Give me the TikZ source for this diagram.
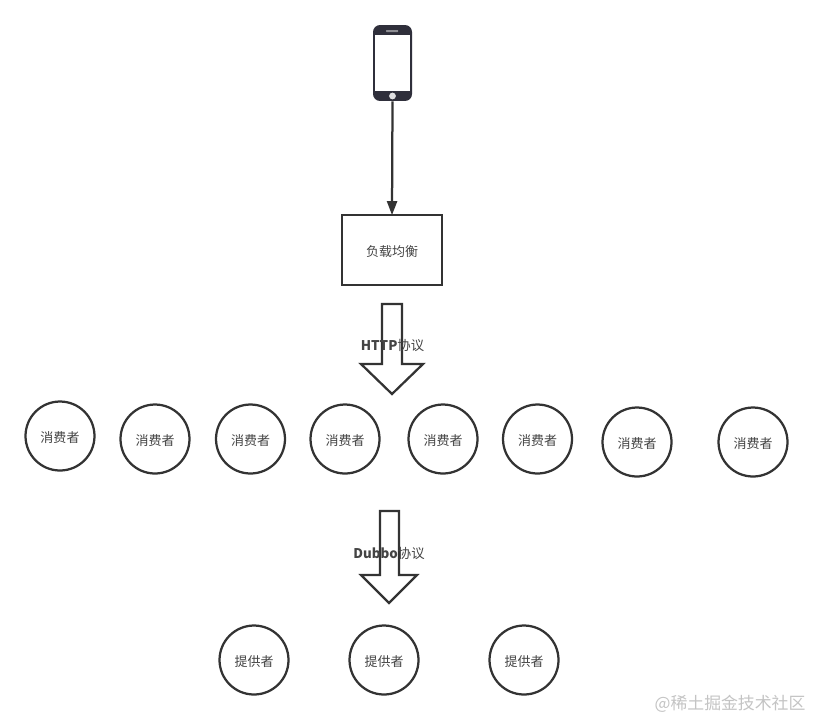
\documentclass[tikz,border=0pt]{standalone}
\usepackage{xcolor}
\usepackage{fontspec}
\usepackage{tikz}
\usetikzlibrary{arrows.meta}
\setmainfont{Noto Sans CJK SC}
\definecolor{ink}{HTML}{333333}
\definecolor{label}{HTML}{444444}
\definecolor{phone}{HTML}{2F2F3B}
\definecolor{mark}{HTML}{C4C4C4}
\tikzset{
  round/.style={draw=ink, line width=0.045cm, circle, minimum size=1.38cm, inner sep=0pt,
    text=label, text height=0.28cm, text depth=0.04cm, font=\fontsize{7.4}{9}\selectfont},
  hollow/.style={draw=ink, line width=0.045cm, fill=white, line join=miter},
  proto/.style={text=label, inner sep=0pt, font=\fontsize{7.6}{9}\selectfont}
}
\begin{document}
\begin{tikzpicture}[x=0.02cm, y=-0.02cm]
      \useasboundingbox (0,0) rectangle (813,720);
      \fill[white] (0,0) rectangle (813,720);
      % phone
      \node[fill=phone, rounded corners=0.14cm, minimum width=0.78cm, minimum height=1.52cm, inner sep=0pt]
        (mobile) at (392.5,63) {};
      \fill[white] (375,35) rectangle (410,91);
      \fill[white!45!phone, rounded corners=0.01cm] (386,30) rectangle (398,32);
      \fill[white!85!phone] (392.5,96) circle (3.4);
      % load balancer
      \node[draw=ink, line width=0.045cm, minimum width=1.99cm, minimum height=1.39cm, inner sep=0pt,
        text=label, text height=0.28cm, text depth=0.04cm, font=\fontsize{7.4}{9}\selectfont] (lb) at (392,250) {负载均衡};
      \draw[ink, line width=0.045cm, -{Triangle[length=0.28cm, width=0.2cm]}, shorten >=-0.02cm] (mobile.south) -- (lb.north);
      % block arrows
      \draw[hollow] (382,304) -- (402,304) -- (402,364) -- (423,364) -- (392,394)
        -- (361,364) -- (382,364) -- cycle;
      \draw[hollow] (380,511) -- (399,511) -- (399,575) -- (417,575) -- (389,603)
        -- (361,575) -- (380,575) -- cycle;
      \node[proto] (httplabel) at (392.5,345.5) {\textbf{HTTP}协议};
      \node[proto] (dubbolabel) at (389,553.5) {\textbf{Dubbo}协议};
      % consumers
      \foreach[count=\i] \xp/\yp in {60/436, 155/439, 250.5/439, 345/439, 443/439, 537.5/439, 637/442, 753/442} {
        \node[round] (consumer\i) at (\xp,\yp) {消费者};
      }
      % providers
      \foreach[count=\i] \xp in {254, 384, 524} {
        \node[round] (provider\i) at (\xp,660) {提供者};
      }
      \node[text=mark, inner sep=0pt, font=\fontsize{9.6}{11}\selectfont] (watermark) at (730,704) {@稀土掘金技术社区};
    \end{tikzpicture}
\end{document}
